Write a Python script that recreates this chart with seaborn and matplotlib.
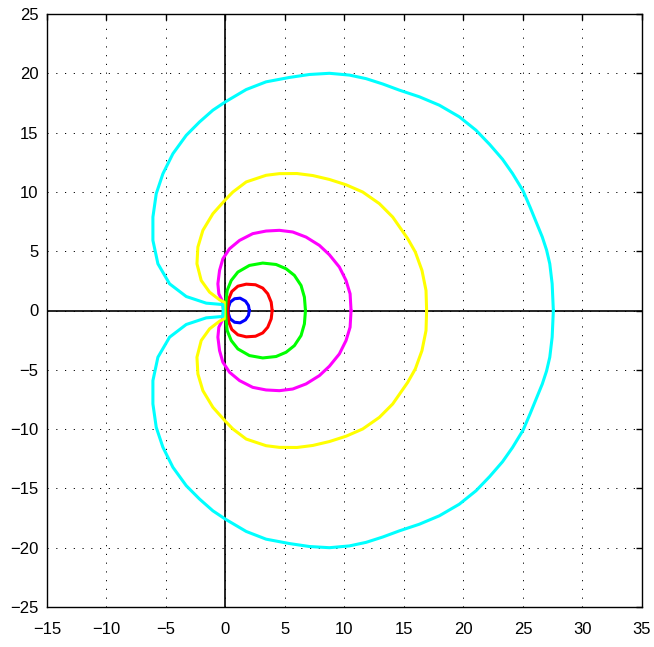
import numpy as np
import pandas as pd
import seaborn as sns
from matplotlib import pyplot as plt

# upper halves of the closed curves (rightmost point -> origin)
cyan_x = [27.55, 27.45, 27.25, 26.98, 26.62, 26.15, 25.6, 25.0, 24.12, 23.28, 22.2, 21.05,
          19.65, 17.97, 16.29, 14.61, 13.21, 11.81, 10.41, 8.73, 7.05, 5.37,
          3.41, 1.74, 0.0, -1.06, -2.18, -3.3, -4.42, -5.26, -5.82, -6.1, -6.1, -5.68, -4.7,
          -3.3, -1.62, -0.22, -0.2]
cyan_y = [0.0, 2.25, 3.94, 5.1, 6.2, 7.35, 8.7, 10.1, 11.55, 12.75, 14.0, 15.2,
          16.33, 17.31, 18.02, 18.58, 19.1, 19.55, 19.85, 20.0, 19.9, 19.65, 19.28,
          18.63, 17.6, 16.89, 15.9, 14.77, 13.22, 11.53, 9.85, 7.88, 5.91, 3.94, 2.25, 1.18,
          0.62, 0.5, 0.0]

yellow_x = [16.9, 16.85, 16.51, 15.95, 15.31, 14.05, 12.93, 11.53, 10.13, 8.73, 7.33, 6.0,
            4.53, 3.41, 1.74, 0.62, 0.0, -1.06, -1.9, -2.32, -2.4, -2.04, -1.34, -0.5, -0.1,
            -0.1]
yellow_y = [0.0, 1.69, 3.38, 4.93, 6.06, 7.88, 9.01, 9.99, 10.6, 11.05, 11.38, 11.55, 11.54,
            11.4, 10.84, 9.99, 9.35, 8.16, 6.76, 5.35, 3.94, 2.53, 1.55, 0.9, 0.7, 0.0]

magenta_x = [10.55, 10.47, 10.13, 9.57, 8.73, 7.89, 6.77, 5.65, 4.53, 3.41, 2.29, 1.18, 0.34,
             -0.22, -0.5, -0.64, -0.56, -0.28, -0.15]
magenta_y = [0.0, 1.41, 2.53, 3.66, 4.7, 5.49, 6.19, 6.62, 6.76, 6.7, 6.48, 5.91, 5.21, 4.36,
             3.38, 2.25, 1.41, 0.84, 0.0]

green_x = [6.72, 6.63, 6.35, 5.79, 5.09, 4.25, 3.13, 2.01, 1.04, 0.48, 0.14, 0.05, 0.0]
green_y = [0.0, 1.13, 2.11, 2.96, 3.52, 3.88, 4.0, 3.8, 3.24, 2.53, 1.69, 0.84, 0.0]

red_x = [3.92, 3.84, 3.55, 3.13, 2.52, 1.74, 1.04, 0.53, 0.28, 0.2, 0.18]
red_y = [0.0, 0.7, 1.41, 1.89, 2.17, 2.22, 2.05, 1.6, 0.99, 0.28, 0.0]

blue_x = [2.0, 1.93, 1.68, 1.23, 0.76, 0.39, 0.25, 0.23]
blue_y = [0.0, 0.42, 0.79, 1.04, 0.99, 0.7, 0.28, 0.0]

curves = [
    (blue_x, blue_y, 'blue'),
    (red_x, red_y, 'red'),
    (green_x, green_y, 'lime'),
    (magenta_x, magenta_y, 'magenta'),
    (yellow_x, yellow_y, 'yellow'),
    (cyan_x, cyan_y, 'cyan'),
]

x_ticks = list(range(-15, 40, 5))
y_ticks = list(range(-25, 30, 5))

sns.set_style("white")
plt.rcParams['font.family'] = ['Liberation Sans', 'DejaVu Sans']

fig = plt.figure(figsize=(6.54, 6.47), dpi=100)
ax = fig.add_axes([47 / 654, 1 - 607 / 647, 595 / 654, 593 / 647])

# axis lines through the origin
ax.axhline(0, color='black', lw=1.2, zorder=1)
ax.axvline(0, color='black', lw=1.2, zorder=1)

for xs, ys, col in curves:
    # close the curve by mirroring the upper half below the x axis
    df = pd.DataFrame({
        'x': list(xs) + list(xs[::-1]),
        'y': list(ys) + [-v for v in ys[::-1]],
    })
    sns.lineplot(data=df, x='x', y='y', sort=False, estimator=None, color=col,
                 lw=2.2, ax=ax, zorder=3)

ax.set_xlim(-15, 35)
ax.set_ylim(-25, 25)
ax.set_xticks(x_ticks)
ax.set_yticks(y_ticks)
ax.set_xlabel('')
ax.set_ylabel('')
ax.grid(True, color='black', lw=0.7, linestyle=(0, (1.2, 7.8)))
ax.tick_params(direction='in', length=4.5, width=1, top=True, right=True,
               labelsize=12, colors='black')
ax.tick_params(axis='x', pad=11)
ax.tick_params(axis='y', pad=6)
for s in ax.spines.values():
    s.set_color('black')
    s.set_linewidth(1)

fig.savefig('out.png', dpi=100)
